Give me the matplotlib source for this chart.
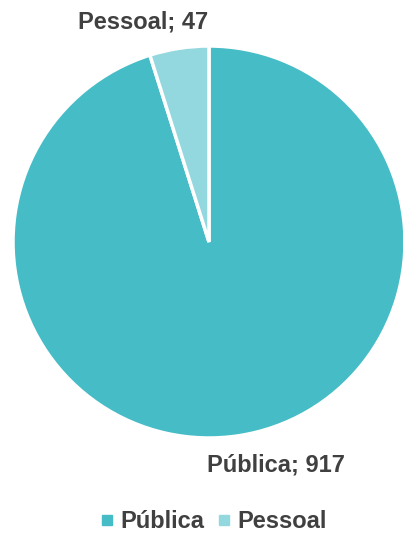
import matplotlib
matplotlib.use("Agg")
import matplotlib.pyplot as plt
from matplotlib.lines import Line2D

categories = ["Pública", "Pessoal"]
values = [917, 47]
colors = ["#45BCC6", "#93D8DE"]

W, H = 403, 533
fig = plt.figure(figsize=(W / 100, H / 100), dpi=100)
cx, cy, r = 209, 242, 196
ax = fig.add_axes([(cx - r) / W, (H - cy - r) / H, 2 * r / W, 2 * r / H])
ax.pie(values, colors=colors, startangle=90, counterclock=False,
       wedgeprops=dict(edgecolor="white", linewidth=2.5))
ax.set_xlim(-1, 1)
ax.set_ylim(-1, 1)
ax.set_aspect("equal")

font = dict(family=["Liberation Sans", "DejaVu Sans"], fontweight="bold",
            fontsize=17, color="#404040", ha="center", va="center")
ax.text(-66 / r, 220 / r, f"{categories[1]}; {values[1]}", clip_on=False, **font)
ax.text(67 / r, -223 / r, f"{categories[0]}; {values[0]}", clip_on=False, **font)

handles = [Line2D([], [], marker="s", linestyle="", markersize=6.5,
                  markerfacecolor=c, markeredgecolor=c) for c in colors]
fig.legend(handles, categories, loc="center", bbox_to_anchor=(214 / W, 1 - 522 / H),
           ncol=2, frameon=False, handlelength=0.5, handletextpad=0.3,
           columnspacing=0.6,
           prop=dict(family=["Liberation Sans", "DejaVu Sans"], weight="bold", size=17),
           labelcolor="#404040")

fig.savefig("out.png", dpi=100)
